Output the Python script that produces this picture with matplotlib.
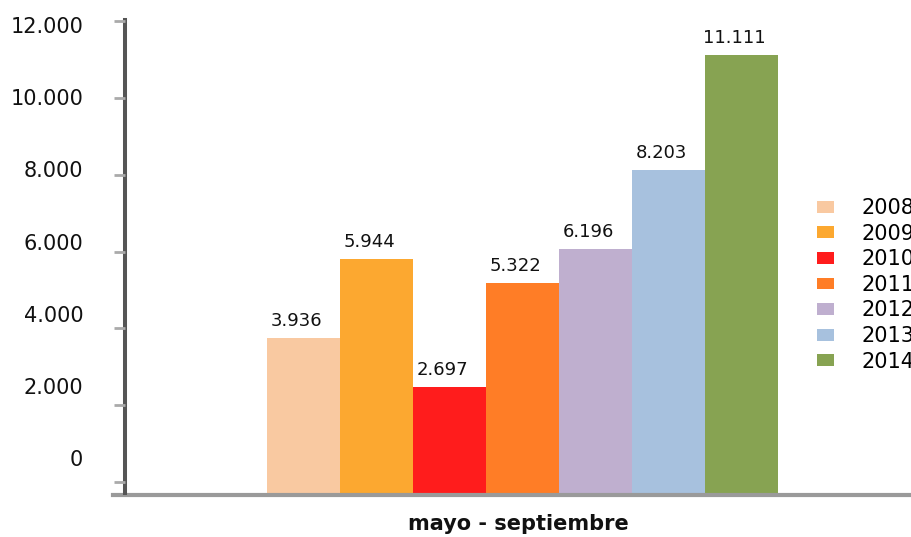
import matplotlib
matplotlib.use("Agg")
import matplotlib.pyplot as plt
from matplotlib.lines import Line2D

years = ["2008", "2009", "2010", "2011", "2012", "2013", "2014"]
values = [3936, 5944, 2697, 5322, 6196, 8203, 11111]
colors = ["#F9C9A1", "#FCA830", "#FF1C1C", "#FF7D26", "#BFAFCF", "#A7C1DE", "#87A352"]
category = "mayo - septiembre"
yticks = [0, 2000, 4000, 6000, 8000, 10000, 12000]
ytick_labels = ["0", "2.000", "4.000", "6.000", "8.000", "10.000", "12.000"]

W, H = 912, 537
fig = plt.figure(figsize=(W / 100, H / 100), dpi=100)
fig.patch.set_facecolor("white")

def frac(x0, y0, x1, y1):
    return [x0 / W, 1 - y1 / H, (x1 - x0) / W, (y1 - y0) / H]

ax = fig.add_axes(frac(125, 20, 912, 493))
w = 0.1
n = len(values)
for i, (yr, v, c) in enumerate(zip(years, values, colors)):
    x = (i - (n - 1) / 2) * w
    ax.bar(x, v, width=w, color=c, label=yr, zorder=2)
    ax.annotate(f"{v:,}".replace(",", "."), (x, v), xytext=(-7, 8),
                textcoords="offset pixels", ha="center", va="bottom",
                fontsize=13, color="#111111", zorder=3)

ax.set_xlim(-0.544, 0.534)
ax.set_ylim(0, 12000)
ax.set_xticks([])
ax.set_yticks([])
for s in ["top", "right", "bottom"]:
    ax.spines[s].set_visible(False)
ax.spines["left"].set_color("#555555")
ax.spines["left"].set_linewidth(2.9)
ax.spines["left"].set_zorder(4)
ax.add_line(Line2D([-0.015, 1.0], [-0.004, -0.004], transform=ax.transAxes,
                   color="#9a9a9a", lw=3.0, clip_on=False, zorder=3))
ax.set_xlabel(category, fontsize=15, fontweight="bold", labelpad=15, color="#111111")

# tick marks
axt = fig.add_axes(frac(125, 21, 912, 482), facecolor="none")
axt.set_ylim(0, 12000)
axt.set_yticks(yticks)
axt.set_yticklabels([])
axt.set_xticks([])
axt.tick_params(axis="y", length=8, width=2, color="#aaaaaa", direction="out")
for s in axt.spines.values():
    s.set_visible(False)

# tick labels
axl = fig.add_axes(frac(125, 25, 912, 458), facecolor="none")
axl.set_ylim(0, 12000)
axl.set_yticks(yticks)
axl.set_yticklabels(ytick_labels, fontsize=15, color="#111111")
axl.set_xticks([])
axl.tick_params(axis="y", length=0, pad=30)
for s in axl.spines.values():
    s.set_visible(False)

handles, labels = ax.get_legend_handles_labels()
fig.legend(handles, labels, loc="upper left", bbox_to_anchor=(817 / W, 1 - 198 / H),
           bbox_transform=fig.transFigure, frameon=False, fontsize=15,
           handlelength=0.8, handleheight=0.5, handletextpad=1.35,
           labelspacing=0.27, borderpad=0, borderaxespad=0)

fig.savefig("out.png", dpi=100)
